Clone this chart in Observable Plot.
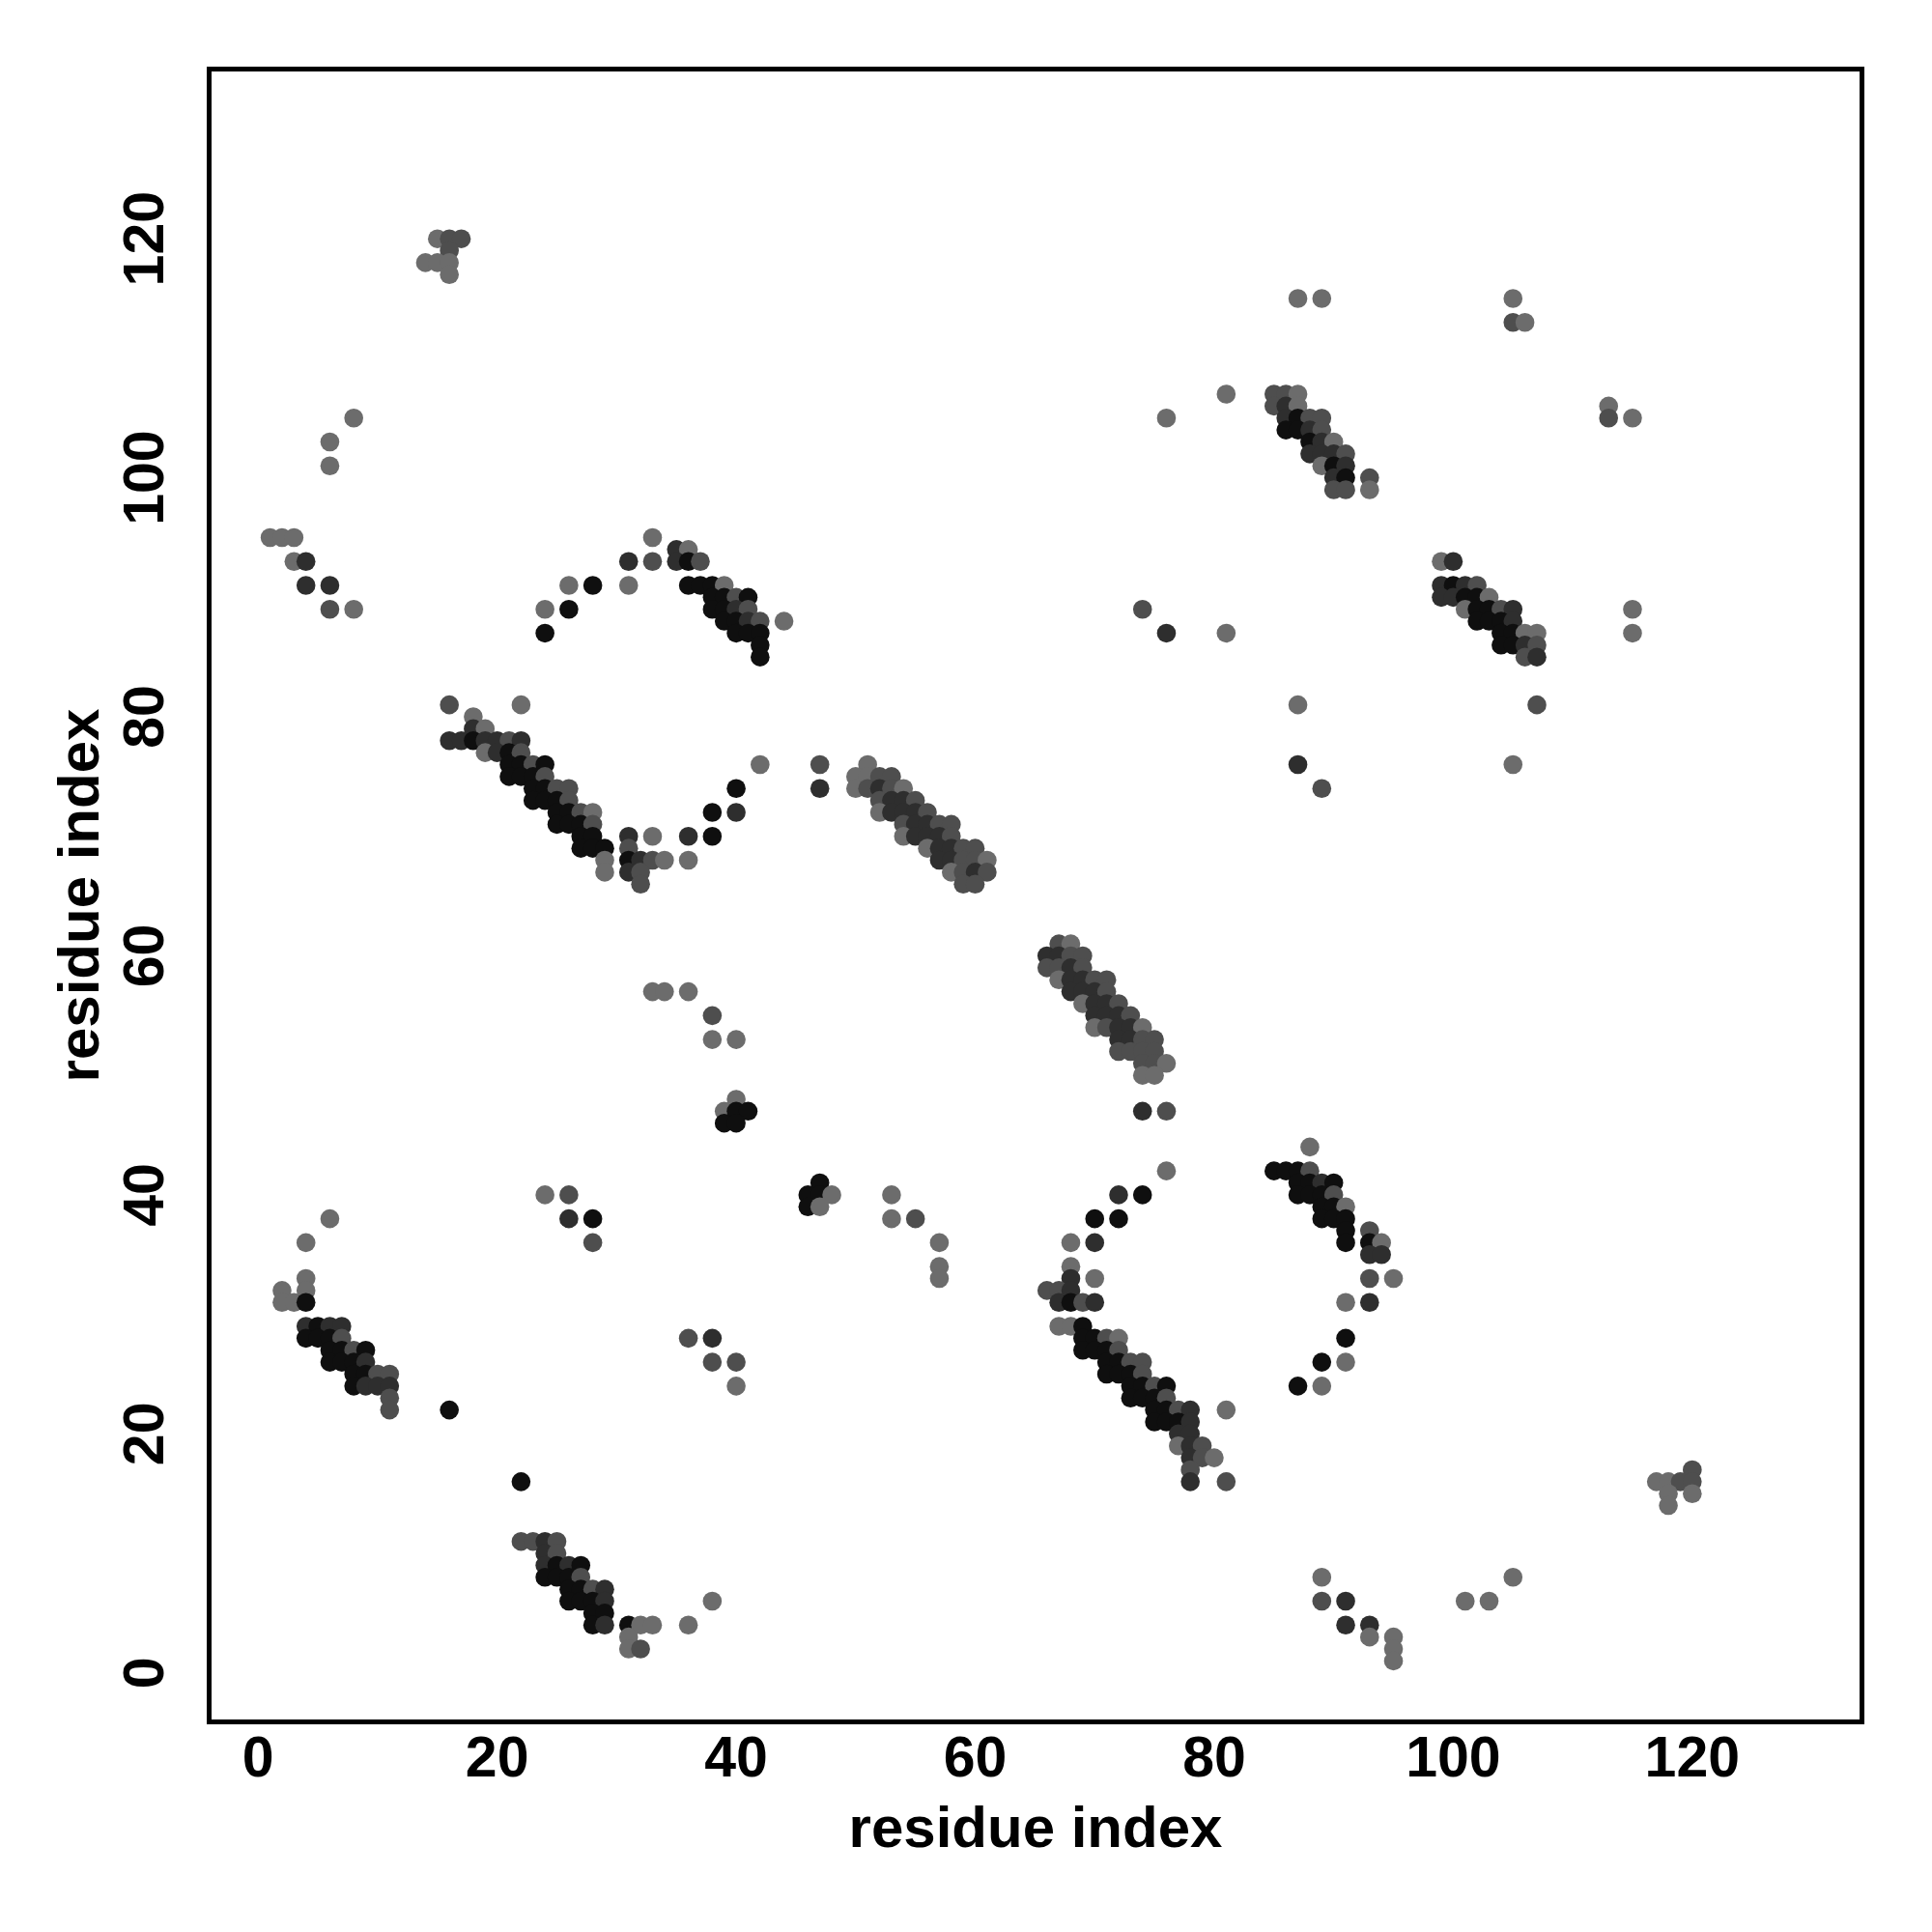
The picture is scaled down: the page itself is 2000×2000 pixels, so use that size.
<!DOCTYPE html>
<html>
<head>
<meta charset="utf-8">
<script src="https://cdn.jsdelivr.net/npm/d3@7"></script>
<script src="https://cdn.jsdelivr.net/npm/@observablehq/plot@0.6"></script>
<style>
  html, body { margin: 0; padding: 0; background: white; }
  #chart { width: 2000px; height: 2000px; }
</style>
</head>
<body>
<div id="chart"></div>
<script>
// Contacts: [residue i, residue j, shade level 1 (darkest) .. 4 (lightest)]
const upperLeft = [
  [15,120,4],[16,120,3],[17,120,3],[16,119,3],[14,118,4],[15,118,4],[16,118,4],[16,117,4],
  [8,105,4],[6,103,4],[6,101,4],
  [1,95,4],[2,95,4],[3,95,4],[3,93,4],[4,93,2],[4,91,2],[6,91,2],[6,89,3],[8,89,4]
];
const upperArc = [
  [33,95,4],[35,94,2],[36,94,4],[31,93,2],[33,93,3],[35,93,2],[36,93,1],[37,93,3],
  [26,91,4],[28,91,1],[31,91,4],[36,91,1],[37,91,1],[38,91,1],[39,91,4],
  [38,90,1],[39,90,1],[40,90,3],[41,90,1],
  [24,89,4],[26,89,1],[38,89,1],[39,89,1],[40,89,2],[41,89,3],
  [39,88,1],[40,88,1],[41,88,2],[42,88,3],[44,88,4],
  [24,87,1],[40,87,1],[41,87,1],[42,87,1],[42,86,1],[42,85,1]
];
const lowerBand = [
  [16,81,3],[22,81,4],[18,80,4],[18,79,2],[19,79,4],
  [16,78,2],[17,78,2],[18,78,1],[19,78,2],[20,78,2],[21,78,3],[22,78,2],
  [19,77,4],[20,77,2],[21,77,1],[22,77,3],
  [21,76,1],[22,76,1],[23,76,3],[24,76,1],
  [21,75,1],[22,75,1],[23,75,1],[24,75,3],
  [23,74,1],[24,74,1],[25,74,3],[26,74,3],
  [23,73,1],[24,73,1],[25,73,1],[26,73,3],
  [25,72,1],[26,72,1],[27,72,3],[28,72,4],
  [25,71,1],[26,71,1],[27,71,1],[28,71,3],
  [27,70,1],[28,70,1],[31,70,2],[33,70,4],[36,70,2],[38,70,1],
  [27,69,1],[28,69,1],[29,69,1],[31,69,3],
  [29,68,4],[31,68,1],[32,68,2],[33,68,3],[34,68,4],[36,68,4],
  [29,67,4],[31,67,2],[32,67,3],[32,66,3],
  [42,76,4],[40,74,1],[38,72,1],[40,72,2]
];
const band47 = [
  [47,76,3],[47,74,2],[51,76,4],
  [50,75,4],[51,75,4],[52,75,3],[53,75,3],
  [50,74,4],[51,74,3],[52,74,2],[53,74,3],[54,74,4],
  [52,73,3],[53,73,2],[54,73,2],[55,73,3],
  [52,72,4],[53,72,2],[54,72,2],[55,72,2],[56,72,3],
  [54,71,3],[55,71,2],[56,71,2],[57,71,3],[58,71,3],
  [54,70,4],[55,70,2],[56,70,2],[57,70,2],[58,70,3],
  [56,69,4],[57,69,2],[58,69,2],[59,69,3],[60,69,3],
  [57,68,2],[58,68,2],[59,68,3],[60,68,3],[61,68,4],
  [58,67,4],[59,67,3],[60,67,2],[61,67,3],
  [59,66,3],[60,66,3]
];
const middle = [
  [33,57,4],[34,57,4],[36,57,4],[38,55,3],[38,53,4],[40,53,4],
  [40,48,4],[39,47,4],[40,47,1],[41,47,1],[39,46,1],[40,46,1],
  [47,41,1],[46,40,1],[47,40,1],[48,40,4],[46,39,1],[47,39,4],
  [53,40,4],[53,38,4],[55,38,3],[57,36,4],[57,34,4],[57,33,4],
  [36,28,3],[38,28,2],[38,26,3],[40,26,3],[40,24,4]
];
const lowerLeft = [
  [6,38,4],[4,36,4],[4,33,4],[4,32,4],[2,32,4],[2,31,4],[3,31,4],[4,31,1],
  [4,29,2],[5,29,1],[6,29,2],[7,29,2],
  [4,28,1],[5,28,1],[6,28,1],[7,28,3],
  [6,27,1],[7,27,1],[8,27,3],[9,27,1],
  [6,26,1],[7,26,1],[8,26,1],[9,26,2],
  [8,25,1],[9,25,1],[10,25,3],[11,25,3],
  [8,24,1],[9,24,2],[10,24,2],[11,24,2],
  [11,23,3],[11,22,3],[16,22,1],
  [24,40,4],[26,40,3],[26,38,2],[28,38,1],[28,36,3]
];
const bottomLeft = [
  [22,16,1],
  [22,11,3],[23,11,3],[24,11,2],[25,11,3],
  [24,10,2],[25,10,3],
  [24,9,2],[25,9,1],[26,9,2],[27,9,1],
  [24,8,1],[25,8,1],[26,8,1],[27,8,3],
  [26,7,1],[27,7,1],[28,7,3],[29,7,2],
  [26,6,1],[27,6,1],[28,6,1],[29,6,2],[38,6,4],
  [28,5,1],[29,5,1],
  [28,4,1],[29,4,2],[31,4,1],[32,4,4],[33,4,4],[36,4,4],
  [31,3,4],[31,2,4],[32,2,3]
];
const band66 = [
  [67,61,3],[68,61,4],
  [66,60,2],[67,60,2],[68,60,3],[69,60,3],
  [66,59,3],[67,59,3],[68,59,2],[69,59,3],
  [67,58,4],[68,58,2],[69,58,2],[70,58,3],[71,58,3],
  [68,57,2],[69,57,2],[70,57,2],[71,57,3],
  [69,56,4],[70,56,2],[71,56,2],[72,56,3],
  [70,55,2],[71,55,2],[72,55,2],[73,55,3],
  [70,54,4],[71,54,3],[72,54,2],[73,54,2],[74,54,4],
  [72,53,2],[73,53,2],[74,53,3],[75,53,3],
  [72,52,3],[73,52,3],[74,52,3],[75,52,3],
  [74,51,3],[75,51,3],[76,51,4],
  [74,50,4],[75,50,4],
  [74,47,2],[76,47,3]
];
const band69 = [
  [76,42,4],[72,40,2],[74,40,1],[70,38,1],[72,38,1],[68,36,4],[70,36,2],[68,34,4],[68,33,2],[70,33,4],
  [66,32,3],[67,32,3],[68,32,2],
  [67,31,2],[68,31,1],[69,31,3],[70,31,2],
  [67,29,4],[68,29,4],[69,29,1],
  [69,28,1],[70,28,1],[71,28,3],[72,28,4],
  [69,27,1],[70,27,1],[71,27,1],[72,27,3],
  [71,26,1],[72,26,1],[73,26,3],[74,26,3],
  [71,25,1],[72,25,1],[73,25,1],[74,25,3],
  [73,24,1],[74,24,1],[75,24,3],[76,24,1],
  [73,23,1],[74,23,1],[75,23,1],[76,23,3],
  [75,22,1],[76,22,1],[77,22,3],[78,22,2],[81,22,4],
  [75,21,1],[76,21,1],[77,21,1],[78,21,2],
  [77,20,2],[78,20,2],
  [77,19,4],[78,19,2],[79,19,3],
  [78,18,2],[79,18,3],[80,18,4],
  [78,17,3],[78,16,2],[81,16,3]
];
const band85 = [
  [88,44,4],
  [85,42,1],[86,42,1],[87,42,1],[88,42,3],
  [87,41,1],[88,41,1],[89,41,2],[90,41,1],
  [87,40,1],[88,40,1],[89,40,1],[90,40,3],
  [89,39,1],[90,39,1],[91,39,4],
  [89,38,1],[90,38,1],[91,38,1],
  [91,37,1],[93,37,3],
  [91,36,1],[93,36,1],[94,36,4],
  [93,35,2],[94,35,2],
  [93,33,3],[95,33,4],
  [91,31,4],[93,31,2],
  [91,28,1],[89,26,1],[91,26,4],[87,24,1],[89,24,4]
];
const upperRightA = [
  [87,115,4],[89,115,4],[81,107,4],[76,105,4],
  [85,107,3],[86,107,3],[87,107,4],
  [85,106,3],[86,106,2],[87,106,4],
  [86,105,2],[87,105,1],[88,105,3],[89,105,3],
  [86,104,1],[87,104,1],[88,104,2],[89,104,3],
  [88,103,1],[89,103,2],[90,103,4],
  [88,102,2],[89,102,2],[90,102,2],[91,102,3],
  [89,101,4],[90,101,1],[91,101,2],
  [90,100,2],[91,100,1],[93,100,3],
  [90,99,3],[91,99,3],[93,99,4],
  [74,89,3],[76,87,2],[81,87,4],[87,81,4],[87,76,2],[89,74,3]
];
const upperRightB = [
  [105,115,4],[105,113,3],[106,113,4],[113,106,4],[113,105,3],[115,105,4],[115,89,4],[115,87,4],[107,81,3],[105,76,4],
  [99,93,4],[100,93,2],
  [99,91,2],[100,91,1],[101,91,2],[102,91,3],
  [99,90,2],[100,90,2],[101,90,1],[102,90,1],[103,90,4],
  [101,89,4],[102,89,1],[103,89,1],[104,89,3],[105,89,2],
  [102,88,1],[103,88,1],[104,88,1],[105,88,2],
  [104,87,1],[105,87,1],[106,87,4],[107,87,4],
  [104,86,1],[105,86,1],[106,86,2],[107,86,3],
  [106,85,3],[107,85,2]
];
const lowerRight = [
  [89,8,4],[89,6,3],[91,6,2],[91,4,2],[93,4,2],[93,3,4],[95,3,4],[95,2,4],[95,1,4],
  [101,6,4],[103,6,4],[105,8,4],
  [117,16,4],[118,16,4],[119,16,3],[120,17,3],[120,16,3],[118,15,4],[118,14,4],[120,15,4]
];

const xTicks = [0, 20, 40, 60, 80, 100, 120];
const yTicks = [0, 20, 40, 60, 80, 100, 120];
const xTitle = "residue index";
const yTitle = "residue index";
const shadeLevels = [1, 2, 3, 4];

const groups = [upperLeft, upperArc, lowerBand, band47, middle, lowerLeft, bottomLeft,
                band66, band69, band85, upperRightA, upperRightB, lowerRight];
const data = groups.flat().map(([x, y, s]) => ({x, y, s}));

const fontFamily = "'Liberation Sans', Arial, Helvetica, sans-serif";

const chart = Plot.plot({
  width: 2000,
  height: 2000,
  marginLeft: 216,
  marginRight: 73,
  marginTop: 71,
  marginBottom: 218,
  x: {domain: [-4.1, 134.2], axis: null},
  y: {domain: [-4.1, 134.2], axis: null},
  color: {type: "ordinal", domain: shadeLevels, range: ["#0f0f0f", "#2e2e2e", "#4e4e4e", "#6c6c6c"]},
  style: {fontFamily, background: "white", color: "black"},
  marks: [
    Plot.dot(data, {x: "x", y: "y", fill: "s", r: 9.8, stroke: "none"}),
    Plot.frame({stroke: "black", strokeWidth: 5}),
    Plot.text(xTicks, {x: d => d, frameAnchor: "bottom", dy: 38, text: d => String(d),
      fontSize: 59, fontWeight: "bold", fill: "black", lineAnchor: "middle", textAnchor: "middle"}),
    Plot.text(yTicks, {y: d => d, frameAnchor: "left", dx: -66, text: d => String(d), rotate: -90,
      fontSize: 59, fontWeight: "bold", fill: "black", lineAnchor: "middle", textAnchor: "middle"}),
    Plot.text([xTitle], {frameAnchor: "bottom", dy: 110, text: d => d,
      fontSize: 60, fontWeight: "bold", fill: "black", lineAnchor: "middle", textAnchor: "middle"}),
    Plot.text([yTitle], {frameAnchor: "left", dx: -134, text: d => d, rotate: -90,
      fontSize: 60, fontWeight: "bold", fill: "black", lineAnchor: "middle", textAnchor: "middle"})
  ]
});
document.getElementById("chart").appendChild(chart);
</script>
</body>
</html>
